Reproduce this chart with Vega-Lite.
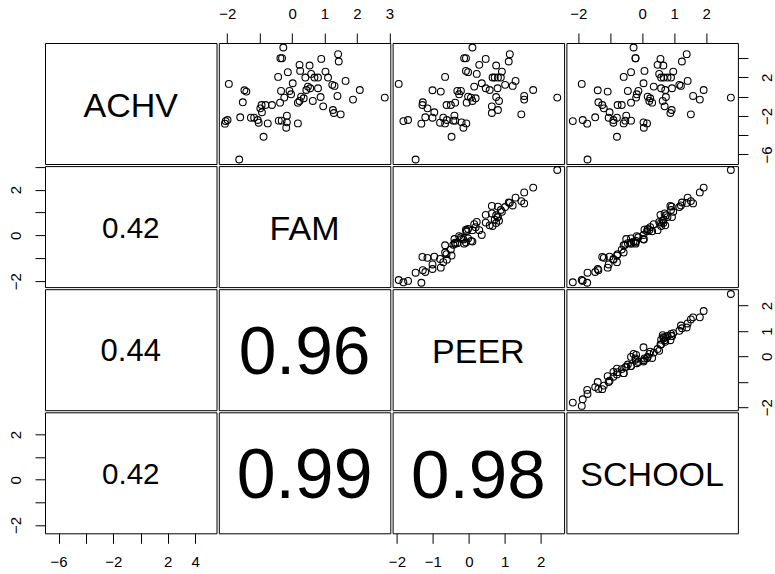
{
  "$schema": "https://vega.github.io/schema/vega-lite/v6.json",
  "background": "white",
  "padding": {"left": 7, "top": 5, "right": 5, "bottom": 5},
  "columns": 4,
  "bounds": "flush",
  "spacing": {"row": 2.1, "column": 1.8},
  "datasets": {
    "eeo": [
      {"ACHV": 5.10, "FAM": -0.27, "PEER": 0.10, "SCHOOL": -0.27},
      {"ACHV": 3.99, "FAM": -0.36, "PEER": -0.13, "SCHOOL": -0.21},
      {"ACHV": 3.99, "FAM": -0.31, "PEER": -0.08, "SCHOOL": -0.21},
      {"ACHV": 4.41, "FAM": 1.42, "PEER": 1.14, "SCHOOL": 1.39},
      {"ACHV": 3.65, "FAM": 1.44, "PEER": 1.11, "SCHOOL": 1.24},
      {"ACHV": 3.92, "FAM": 0.90, "PEER": 0.47, "SCHOOL": 0.57},
      {"ACHV": 3.30, "FAM": 0.23, "PEER": 0.29, "SCHOOL": 0.48},
      {"ACHV": 3.23, "FAM": 0.54, "PEER": 0.76, "SCHOOL": 0.66},
      {"ACHV": 2.67, "FAM": 0.25, "PEER": -0.08, "SCHOOL": 0.07},
      {"ACHV": 2.54, "FAM": -0.13, "PEER": -0.02, "SCHOOL": -0.35},
      {"ACHV": 2.05, "FAM": -0.43, "PEER": -0.66, "SCHOOL": -0.58},
      {"ACHV": 2.36, "FAM": 0.59, "PEER": 0.22, "SCHOOL": 0.53},
      {"ACHV": 1.98, "FAM": 0.41, "PEER": 0.66, "SCHOOL": 0.59},
      {"ACHV": 1.98, "FAM": 0.69, "PEER": 0.72, "SCHOOL": 0.67},
      {"ACHV": 1.98, "FAM": 0.80, "PEER": 0.81, "SCHOOL": 0.79},
      {"ACHV": 1.98, "FAM": 1.11, "PEER": 0.89, "SCHOOL": 0.90},
      {"ACHV": 2.60, "FAM": 1.03, "PEER": 0.92, "SCHOOL": 0.97},
      {"ACHV": 1.39, "FAM": 0.02, "PEER": 0.36, "SCHOOL": 0.04},
      {"ACHV": 1.32, "FAM": -1.95, "PEER": -1.95, "SCHOOL": -1.89},
      {"ACHV": 1.63, "FAM": 1.65, "PEER": 1.30, "SCHOOL": 1.42},
      {"ACHV": 1.22, "FAM": 1.24, "PEER": 1.01, "SCHOOL": 1.16},
      {"ACHV": 1.11, "FAM": 1.31, "PEER": 1.22, "SCHOOL": 1.21},
      {"ACHV": 1.04, "FAM": 0.49, "PEER": 0.15, "SCHOOL": 0.36},
      {"ACHV": 0.69, "FAM": 2.09, "PEER": 1.79, "SCHOOL": 1.92},
      {"ACHV": 0.66, "FAM": -1.47, "PEER": -1.01, "SCHOOL": -1.39},
      {"ACHV": 0.52, "FAM": -1.41, "PEER": -0.78, "SCHOOL": -1.08},
      {"ACHV": 0.59, "FAM": -0.34, "PEER": -0.32, "SCHOOL": -0.45},
      {"ACHV": 0.59, "FAM": -0.08, "PEER": -0.22, "SCHOOL": -0.12},
      {"ACHV": 0.24, "FAM": -0.03, "PEER": -0.27, "SCHOOL": -0.17},
      {"ACHV": 0.87, "FAM": 0.56, "PEER": 0.47, "SCHOOL": 0.59},
      {"ACHV": 0.69, "FAM": 0.44, "PEER": 0.58, "SCHOOL": 0.72},
      {"ACHV": 0.87, "FAM": 0.80, "PEER": 0.80, "SCHOOL": 0.93},
      {"ACHV": 0.07, "FAM": 1.40, "PEER": 1.54, "SCHOOL": 1.59},
      {"ACHV": -0.31, "FAM": 1.88, "PEER": 1.54, "SCHOOL": 1.80},
      {"ACHV": -0.10, "FAM": 2.86, "PEER": 2.46, "SCHOOL": 2.77},
      {"ACHV": -0.59, "FAM": -1.52, "PEER": -1.28, "SCHOOL": -1.37},
      {"ACHV": -0.10, "FAM": -0.24, "PEER": 0.06, "SCHOOL": -0.19},
      {"ACHV": 0.00, "FAM": 0.28, "PEER": -0.02, "SCHOOL": 0.17},
      {"ACHV": -0.45, "FAM": 0.23, "PEER": 0.10, "SCHOOL": 0.22},
      {"ACHV": -0.63, "FAM": 0.18, "PEER": -0.06, "SCHOOL": 0.31},
      {"ACHV": -0.17, "FAM": 0.36, "PEER": 0.19, "SCHOOL": 0.25},
      {"ACHV": -0.45, "FAM": 0.64, "PEER": 0.84, "SCHOOL": 0.64},
      {"ACHV": -0.04, "FAM": 0.88, "PEER": 0.76, "SCHOOL": 0.74},
      {"ACHV": -0.63, "FAM": -0.37, "PEER": -0.38, "SCHOOL": -0.35},
      {"ACHV": -0.87, "FAM": -0.62, "PEER": -0.50, "SCHOOL": -0.64},
      {"ACHV": -0.87, "FAM": -0.82, "PEER": -0.62, "SCHOOL": -0.77},
      {"ACHV": -0.87, "FAM": -0.94, "PEER": -1.29, "SCHOOL": -1.25},
      {"ACHV": -1.22, "FAM": -0.98, "PEER": -1.15, "SCHOOL": -1.20},
      {"ACHV": -1.63, "FAM": -0.93, "PEER": -0.96, "SCHOOL": -1.02},
      {"ACHV": -1.01, "FAM": 0.96, "PEER": 0.64, "SCHOOL": 0.70},
      {"ACHV": -1.39, "FAM": 1.26, "PEER": 0.81, "SCHOOL": 0.92},
      {"ACHV": -1.70, "FAM": 1.29, "PEER": 0.64, "SCHOOL": 0.88},
      {"ACHV": -1.84, "FAM": 1.50, "PEER": 1.46, "SCHOOL": 1.52},
      {"ACHV": -2.15, "FAM": -1.60, "PEER": -1.21, "SCHOOL": -1.47},
      {"ACHV": -2.19, "FAM": -1.27, "PEER": -1.01, "SCHOOL": -1.05},
      {"ACHV": -2.19, "FAM": -1.17, "PEER": -0.71, "SCHOOL": -0.79},
      {"ACHV": -2.43, "FAM": -1.06, "PEER": -0.61, "SCHOOL": -0.90},
      {"ACHV": -2.71, "FAM": -1.03, "PEER": -0.80, "SCHOOL": -0.90},
      {"ACHV": -2.54, "FAM": -2.05, "PEER": -1.82, "SCHOOL": -2.17},
      {"ACHV": -2.43, "FAM": -1.99, "PEER": -1.69, "SCHOOL": -1.86},
      {"ACHV": -2.81, "FAM": -2.07, "PEER": -1.32, "SCHOOL": -1.72},
      {"ACHV": -2.78, "FAM": -0.75, "PEER": -0.66, "SCHOOL": -0.58},
      {"ACHV": -2.50, "FAM": -0.41, "PEER": -0.43, "SCHOOL": -0.53},
      {"ACHV": -2.50, "FAM": -0.32, "PEER": -0.38, "SCHOOL": -0.35},
      {"ACHV": -1.98, "FAM": -0.16, "PEER": -0.40, "SCHOOL": -0.50},
      {"ACHV": -2.67, "FAM": -0.16, "PEER": -0.20, "SCHOOL": 0.04},
      {"ACHV": -3.23, "FAM": -0.18, "PEER": -0.15, "SCHOOL": 0.05},
      {"ACHV": -2.78, "FAM": 0.18, "PEER": -0.07, "SCHOOL": 0.15},
      {"ACHV": -4.17, "FAM": -0.88, "PEER": -0.48, "SCHOOL": -0.79},
      {"ACHV": -6.53, "FAM": -1.63, "PEER": -1.48, "SCHOOL": -1.71}
    ]
  },
  "config": {
    "view": {"stroke": "black", "strokeWidth": 1, "fill": "white"},
    "axis": {"domain": false, "grid": false, "tickSize": 10, "tickColor": "black", "tickWidth": 1, "labelColor": "black", "labelFont": "Liberation Sans", "labelFontSize": 15, "labelOverlap": false, "labelFlush": false, "labelBound": false, "labelPadding": 12},
    "axisLeft": {"labelAngle": -90, "labelAlign": "center", "labelBaseline": "bottom", "labelPadding": 12},
    "axisRight": {"labelAngle": -90, "labelAlign": "center", "labelBaseline": "top", "labelPadding": 12},
    "axisTop": {"labelPadding": 12},
    "axisBottom": {"labelPadding": 11},
    "text": {"font": "Liberation Sans", "color": "black"},
    "point": {"shape": "circle", "filled": false, "color": "black", "strokeWidth": 1.1, "size": 46, "opacity": 1}
  },
  "concat": [
    {
      "width": 171.5, "height": 121,
      "layer": [
        {"data": {"name": "eeo"}, "mark": {"type": "point", "opacity": 0}, "encoding": {"x": {"field": "ACHV", "type": "quantitative", "scale": {"domain": [-7.0, 5.57], "nice": false, "zero": false}, "axis": null}}},
        {"data": {"values": [{"name": "ACHV"}]}, "mark": {"type": "text", "fontSize": 34, "baseline": "middle", "dy": 3}, "encoding": {"text": {"field": "name"}}}
      ]
    },
    {
      "width": 171.5, "height": 121,
      "data": {"name": "eeo"},
      "mark": {"type": "point"},
      "encoding": {
        "x": {"field": "FAM", "type": "quantitative", "scale": {"domain": [-2.26, 3.03], "nice": false, "zero": false}, "axis": {"orient": "top", "title": null, "values": [-2, -1, 0, 1, 2, 3], "labelExpr": "datum.value == -1 ? '' : datum.label"}},
        "y": {"field": "ACHV", "type": "quantitative", "scale": {"domain": [-7.0, 5.57], "nice": false, "zero": false}, "axis": null}
      }
    },
    {
      "width": 171.5, "height": 121,
      "data": {"name": "eeo"},
      "mark": {"type": "point"},
      "encoding": {
        "x": {"field": "PEER", "type": "quantitative", "scale": {"domain": [-2.12, 2.65], "nice": false, "zero": false}, "axis": null},
        "y": {"field": "ACHV", "type": "quantitative", "scale": {"domain": [-7.0, 5.57], "nice": false, "zero": false}, "axis": null}
      }
    },
    {
      "width": 171.5, "height": 121,
      "data": {"name": "eeo"},
      "mark": {"type": "point"},
      "encoding": {
        "x": {"field": "SCHOOL", "type": "quantitative", "scale": {"domain": [-2.37, 2.99], "nice": false, "zero": false}, "axis": {"orient": "top", "title": null, "values": [-2, -1, 0, 1, 2], "labelExpr": "datum.value == -1 ? '' : datum.label"}},
        "y": {"field": "ACHV", "type": "quantitative", "scale": {"domain": [-7.0, 5.57], "nice": false, "zero": false}, "axis": {"orient": "right", "title": null, "values": [-6, -4, -2, 0, 2, 4], "labelExpr": "indexof([-4, 0, 4], datum.value) >= 0 ? '' : datum.label"}}
      }
    },
    {
      "width": 171.5, "height": 121,
      "layer": [
        {
          "data": {"name": "eeo"},
          "mark": {"type": "point", "opacity": 0},
          "encoding": {
            "y": {"field": "FAM", "type": "quantitative", "scale": {"domain": [-2.26, 3.03], "nice": false, "zero": false}, "axis": {"orient": "left", "title": null, "values": [-2, -1, 0, 1, 2, 3], "labelExpr": "indexof([-1, 1, 3], datum.value) >= 0 ? '' : datum.label"}}
          }
        },
        {
          "data": {"values": [{"r": "0.42"}]},
          "mark": {"type": "text", "fontSize": 29.6, "baseline": "middle", "dy": 2.4},
          "encoding": {"text": {"field": "r"}}
        }
      ]
    },
    {
      "width": 171.5, "height": 121,
      "layer": [
        {"data": {"name": "eeo"}, "mark": {"type": "point", "opacity": 0}, "encoding": {"x": {"field": "FAM", "type": "quantitative", "scale": {"domain": [-2.26, 3.03], "nice": false, "zero": false}, "axis": null}}},
        {"data": {"values": [{"name": "FAM"}]}, "mark": {"type": "text", "fontSize": 34, "baseline": "middle", "dy": 3}, "encoding": {"text": {"field": "name"}}}
      ]
    },
    {
      "width": 171.5, "height": 121,
      "data": {"name": "eeo"},
      "mark": {"type": "point"},
      "encoding": {
        "x": {"field": "PEER", "type": "quantitative", "scale": {"domain": [-2.12, 2.65], "nice": false, "zero": false}, "axis": null},
        "y": {"field": "FAM", "type": "quantitative", "scale": {"domain": [-2.26, 3.03], "nice": false, "zero": false}, "axis": null}
      }
    },
    {
      "width": 171.5, "height": 121,
      "data": {"name": "eeo"},
      "mark": {"type": "point"},
      "encoding": {
        "x": {"field": "SCHOOL", "type": "quantitative", "scale": {"domain": [-2.37, 2.99], "nice": false, "zero": false}, "axis": null},
        "y": {"field": "FAM", "type": "quantitative", "scale": {"domain": [-2.26, 3.03], "nice": false, "zero": false}, "axis": null}
      }
    },
    {
      "width": 171.5, "height": 121,
      "layer": [
        {"data": {"name": "eeo"}, "mark": {"type": "point", "opacity": 0}, "encoding": {"y": {"field": "PEER", "type": "quantitative", "scale": {"domain": [-2.12, 2.65], "nice": false, "zero": false}, "axis": null}}},
        {"data": {"values": [{"r": "0.44"}]}, "mark": {"type": "text", "fontSize": 31, "baseline": "middle", "dy": 2.5}, "encoding": {"text": {"field": "r"}}}
      ]
    },
    {
      "width": 171.5, "height": 121,
      "layer": [
        {"data": {"name": "eeo"}, "mark": {"type": "point", "opacity": 0}, "encoding": {"y": {"field": "PEER", "type": "quantitative", "scale": {"domain": [-2.12, 2.65], "nice": false, "zero": false}, "axis": null}}},
        {"data": {"values": [{"r": "0.96"}]}, "mark": {"type": "text", "fontSize": 67.7, "baseline": "middle", "dy": 4}, "encoding": {"text": {"field": "r"}}}
      ]
    },
    {
      "width": 171.5, "height": 121,
      "layer": [
        {"data": {"name": "eeo"}, "mark": {"type": "point", "opacity": 0}, "encoding": {"x": {"field": "PEER", "type": "quantitative", "scale": {"domain": [-2.12, 2.65], "nice": false, "zero": false}, "axis": null}}},
        {"data": {"values": [{"name": "PEER"}]}, "mark": {"type": "text", "fontSize": 34, "baseline": "middle", "dy": 3}, "encoding": {"text": {"field": "name"}}}
      ]
    },
    {
      "width": 171.5, "height": 121,
      "data": {"name": "eeo"},
      "mark": {"type": "point"},
      "encoding": {
        "x": {"field": "SCHOOL", "type": "quantitative", "scale": {"domain": [-2.37, 2.99], "nice": false, "zero": false}, "axis": null},
        "y": {"field": "PEER", "type": "quantitative", "scale": {"domain": [-2.12, 2.65], "nice": false, "zero": false}, "axis": {"orient": "right", "title": null, "values": [-2, -1, 0, 1, 2], "labelExpr": "datum.value == -1 ? '' : datum.label"}}
      }
    },
    {
      "width": 171.5, "height": 121,
      "layer": [
        {
          "data": {"name": "eeo"},
          "mark": {"type": "point", "opacity": 0},
          "encoding": {
            "x": {"field": "ACHV", "type": "quantitative", "scale": {"domain": [-7.0, 5.57], "nice": false, "zero": false}, "axis": {"orient": "bottom", "title": null, "values": [-6, -4, -2, 0, 2, 4], "labelExpr": "indexof([-4, 0], datum.value) >= 0 ? '' : datum.label"}},
            "y": {"field": "SCHOOL", "type": "quantitative", "scale": {"domain": [-2.37, 2.99], "nice": false, "zero": false}, "axis": {"orient": "left", "title": null, "values": [-2, -1, 0, 1, 2], "labelExpr": "indexof([-1, 1], datum.value) >= 0 ? '' : datum.label"}}
          }
        },
        {
          "data": {"values": [{"r": "0.42"}]},
          "mark": {"type": "text", "fontSize": 29.6, "baseline": "middle", "dy": 2.4},
          "encoding": {"text": {"field": "r"}}
        }
      ]
    },
    {
      "width": 171.5, "height": 121,
      "layer": [
        {"data": {"name": "eeo"}, "mark": {"type": "point", "opacity": 0}, "encoding": {"y": {"field": "SCHOOL", "type": "quantitative", "scale": {"domain": [-2.37, 2.99], "nice": false, "zero": false}, "axis": null}}},
        {"data": {"values": [{"r": "0.99"}]}, "mark": {"type": "text", "fontSize": 69.8, "baseline": "middle", "dy": 4}, "encoding": {"text": {"field": "r"}}}
      ]
    },
    {
      "width": 171.5, "height": 121,
      "layer": [
        {
          "data": {"name": "eeo"},
          "mark": {"type": "point", "opacity": 0},
          "encoding": {
            "x": {"field": "PEER", "type": "quantitative", "scale": {"domain": [-2.12, 2.65], "nice": false, "zero": false}, "axis": {"orient": "bottom", "title": null, "values": [-2, -1, 0, 1, 2]}}
          }
        },
        {
          "data": {"values": [{"r": "0.98"}]},
          "mark": {"type": "text", "fontSize": 69.1, "baseline": "middle", "dy": 4},
          "encoding": {"text": {"field": "r"}}
        }
      ]
    },
    {
      "width": 171.5, "height": 121,
      "layer": [
        {"data": {"name": "eeo"}, "mark": {"type": "point", "opacity": 0}, "encoding": {"x": {"field": "SCHOOL", "type": "quantitative", "scale": {"domain": [-2.37, 2.99], "nice": false, "zero": false}, "axis": null}}},
        {"data": {"values": [{"name": "SCHOOL"}]}, "mark": {"type": "text", "fontSize": 34, "baseline": "middle", "dy": 3}, "encoding": {"text": {"field": "name"}}}
      ]
    }
  ]
}
